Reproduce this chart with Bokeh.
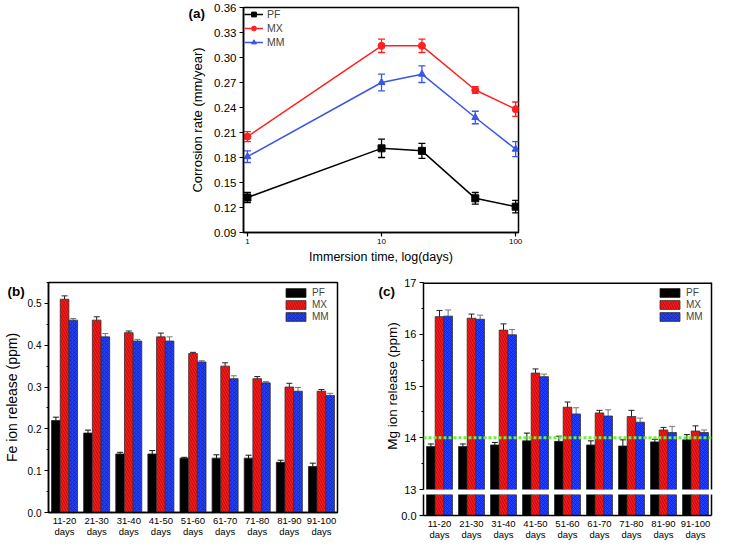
import numpy as np
from bokeh.plotting import figure
from bokeh.models import (ColumnDataSource, Whisker, TeeHead, FixedTicker, SingleIntervalTicker,
                          NumeralTickFormatter, Legend, LegendItem, LinearAxis,
                          Span, FactorRange, Title)
from bokeh.layouts import column, row
from bokeh.transform import dodge
from bokeh.embed import file_html
from bokeh.resources import INLINE

FONT = "Liberation Sans"

# ---------------- data: panel (a) ----------------
days = [1, 10, 20, 50, 100]
pf_rate = [0.132, 0.191, 0.188, 0.131, 0.121]
pf_rate_err = [0.006, 0.011, 0.009, 0.007, 0.0075]
mx_rate = [0.205, 0.314, 0.314, 0.261, 0.238]
mx_rate_err = [0.006, 0.008, 0.008, 0.004, 0.0086]
mm_rate = [0.181, 0.270, 0.280, 0.228, 0.190]
mm_rate_err = [0.007, 0.010, 0.010, 0.0075, 0.009]
a_xticks = [1, 10, 100]

# ---------------- data: panels (b), (c) ----------------
periods = ["11-20", "21-30", "31-40", "41-50", "51-60", "61-70", "71-80", "81-90", "91-100"]
period_labels = [p + "\ndays" for p in periods]

fe_pf = [0.22, 0.19, 0.14, 0.14, 0.13, 0.13, 0.13, 0.12, 0.11]
fe_pf_err = [0.008, 0.007, 0.004, 0.008, 0.002, 0.008, 0.007, 0.005, 0.008]
fe_mx = [0.51, 0.46, 0.43, 0.42, 0.38, 0.35, 0.32, 0.30, 0.29]
fe_mx_err = [0.008, 0.008, 0.004, 0.009, 0.003, 0.008, 0.005, 0.009, 0.004]
fe_mm = [0.46, 0.42, 0.41, 0.41, 0.36, 0.32, 0.31, 0.29, 0.28]
fe_mm_err = [0.004, 0.008, 0.004, 0.010, 0.003, 0.007, 0.003, 0.009, 0.005]

mg_pf = [13.83, 13.83, 13.86, 13.94, 13.93, 13.86, 13.84, 13.92, 13.96]
mg_pf_err = [0.05, 0.05, 0.05, 0.15, 0.10, 0.08, 0.12, 0.05, 0.10]
mg_mx = [16.34, 16.31, 16.08, 15.25, 14.59, 14.48, 14.41, 14.15, 14.13]
mg_mx_err = [0.12, 0.08, 0.12, 0.08, 0.10, 0.05, 0.12, 0.05, 0.10]
mg_mm = [16.35, 16.29, 15.99, 15.18, 14.46, 14.42, 14.30, 14.10, 14.10]
mg_mm_err = [0.12, 0.08, 0.10, 0.05, 0.12, 0.12, 0.08, 0.12, 0.05]
mg_ref_level = 14.0
mg_axis_top = 17

RED = "#ff1a1a"
BLUE = "#1f3cff"


def base_fig(**kw):
    p = figure(output_backend="svg", toolbar_location=None,
               background_fill_color="white", border_fill_color="white", **kw)
    p.grid.visible = False
    return p


def style_axis(ax, tick_size):
    ax.axis_line_color = "black"
    ax.axis_line_width = 1.5
    ax.major_tick_line_color = "black"
    ax.major_tick_line_width = 1.2
    ax.minor_tick_line_color = "black"
    ax.major_tick_in = 0
    ax.major_tick_out = 4
    ax.minor_tick_in = 0
    ax.minor_tick_out = 2
    ax.major_label_text_font = FONT
    ax.major_label_text_font_size = tick_size
    ax.major_label_text_color = "black"
    ax.axis_label_text_font = FONT
    ax.axis_label_text_font_style = "normal"
    ax.axis_label_text_color = "black"


def plain_axis():
    return LinearAxis(ticker=FixedTicker(ticks=[], minor_ticks=[]), axis_line_color="black",
                      axis_line_width=1.5, major_tick_line_color=None, minor_tick_line_color=None,
                      major_tick_out=0, minor_tick_out=0, major_label_standoff=0)


def x_labels(ax):
    ax.major_tick_line_color = None
    ax.major_tick_out = 0
    ax.major_label_text_font_size = "9.5px"
    ax.major_label_text_line_height = 1.0
    ax.major_label_standoff = 2


def panel_tag(text, offset, standoff):
    return Title(text=text, align="left", offset=offset, standoff=standoff, text_font=FONT,
                 text_font_style="bold", text_font_size="13.5px", text_color="black")


# ================= panel (a) =================
src_a = ColumnDataSource(dict(
    days=days,
    pf=pf_rate, pf_lo=np.subtract(pf_rate, pf_rate_err), pf_hi=np.add(pf_rate, pf_rate_err),
    mx=mx_rate, mx_lo=np.subtract(mx_rate, mx_rate_err), mx_hi=np.add(mx_rate, mx_rate_err),
    mm=mm_rate, mm_lo=np.subtract(mm_rate, mm_rate_err), mm_hi=np.add(mm_rate, mm_rate_err),
))

pa = base_fig(width=716, height=278, x_axis_type="log", x_range=(0.935, 105), y_range=(0.09, 0.36),
              min_border_left=243, min_border_right=198, min_border_top=7, min_border_bottom=46)
pa.outline_line_color = "black"
pa.outline_line_width = 1.5

items = []
for key, lab, col, marker in [("pf", "PF", "black", "square"),
                              ("mx", "MX", "#ff2020", "circle"),
                              ("mm", "MM", "#3a55e8", "triangle")]:
    w = Whisker(base="days", upper=key + "_hi", lower=key + "_lo", source=src_a,
                line_color=col, line_width=1.3,
                upper_head=TeeHead(size=7, line_color=col, line_width=1.3),
                lower_head=TeeHead(size=7, line_color=col, line_width=1.3))
    pa.add_layout(w)
    l = pa.line("days", key, source=src_a, line_color=col, line_width=1.5)
    s = pa.scatter("days", key, source=src_a, marker=marker, size=7, fill_color=col, line_color=col)
    items.append(LegendItem(label=lab, renderers=[l, s]))

leg_a = Legend(items=items, location="top_left", border_line_color=None, background_fill_alpha=0,
               label_text_font=FONT, label_text_font_size="10.5px", glyph_width=19, glyph_height=12,
               label_height=12, spacing=2, padding=2, margin=1, label_standoff=4)
pa.add_layout(leg_a)

for ax in pa.xaxis + pa.yaxis:
    style_axis(ax, "11.5px")
pa.xaxis.ticker = FixedTicker(ticks=a_xticks, minor_ticks=[])
pa.xaxis.formatter = NumeralTickFormatter(format="0")
pa.xaxis.major_label_text_font_size = "8px"
pa.xaxis.major_label_standoff = 2
pa.xaxis.axis_label = "Immersion time, log(days)"
pa.xaxis.axis_label_text_font_size = "12.5px"
pa.xaxis.axis_label_standoff = 3
pa.yaxis.ticker = SingleIntervalTicker(interval=0.03, num_minor_ticks=0)
pa.yaxis.formatter = NumeralTickFormatter(format="0.00")
pa.yaxis.major_label_standoff = 3
pa.yaxis.axis_label = "Corrosion rate (mm/year)"
pa.yaxis.axis_label_text_font_size = "13px"
pa.yaxis.axis_label_standoff = 6
pa.add_layout(panel_tag("(a)", -55, -27), "above")


# ================= bar helpers =================
def bar_source(pf, pf_e, mx, mx_e, mm, mm_e):
    return ColumnDataSource(dict(
        period=period_labels,
        pf=pf, pf_lo=np.subtract(pf, pf_e), pf_hi=np.add(pf, pf_e),
        mx=mx, mx_lo=np.subtract(mx, mx_e), mx_hi=np.add(mx, mx_e),
        mm=mm, mm_lo=np.subtract(mm, mm_e), mm_hi=np.add(mm, mm_e),
    ))


BAR_STYLES = [
    ("pf", "PF", -0.27, dict(fill_color="black", line_color="#222222")),
    ("mx", "MX", 0.0, dict(fill_color=RED, line_color="#333333", hatch_pattern="left_diagonal_line",
                           hatch_color="#7a0000", hatch_alpha=0.55, hatch_scale=5, hatch_weight=1)),
    ("mm", "MM", 0.27, dict(fill_color=BLUE, line_color="#333333", hatch_pattern="diagonal_cross",
                            hatch_color="#0a1a80", hatch_alpha=0.6, hatch_scale=4, hatch_weight=0.8)),
]
WHISK_COL = {"pf": "#111111", "mx": "#222222", "mm": "#777777"}


def draw_bars(p, src, with_err=True):
    rends = []
    for key, lab, off, st in BAR_STYLES:
        r = p.vbar(x=dodge("period", off, range=p.x_range), top=key, bottom=0, width=0.27,
                   source=src, line_width=0.8, **st)
        rends.append((lab, r))
        if with_err:
            c = WHISK_COL[key]
            p.add_layout(Whisker(base=dodge("period", off, range=p.x_range), upper=key + "_hi",
                                 lower=key + "_lo", source=src, line_color=c, line_width=1,
                                 upper_head=TeeHead(size=6, line_color=c, line_width=1),
                                 lower_head=TeeHead(size=6, line_color=c, line_width=1)))
    return rends


def bar_legend(rends):
    return Legend(items=[LegendItem(label=l, renderers=[r]) for l, r in rends],
                  location="top_right", border_line_color=None, background_fill_alpha=0,
                  label_text_font=FONT, label_text_font_size="10px", glyph_width=25,
                  glyph_height=11, label_height=11, spacing=1, padding=2, margin=5,
                  label_standoff=4)


# ================= panel (b) =================
src_b = bar_source(fe_pf, fe_pf_err, fe_mx, fe_mx_err, fe_mm, fe_mm_err)
pb = base_fig(width=357, height=264, x_range=FactorRange(*period_labels), y_range=(0, 0.55),
              min_border_left=45, min_border_right=20, min_border_top=4, min_border_bottom=30)
pb.outline_line_color = "black"
pb.outline_line_width = 1.5
rb = draw_bars(pb, src_b)
pb.add_layout(bar_legend(rb))
for ax in pb.xaxis + pb.yaxis:
    style_axis(ax, "10px")
x_labels(pb.xaxis[0])
pb.yaxis.ticker = SingleIntervalTicker(interval=0.1, num_minor_ticks=2)
pb.yaxis.formatter = NumeralTickFormatter(format="0.0")
pb.yaxis.major_label_standoff = 3
pb.yaxis.axis_label = "Fe ion release (ppm)"
pb.yaxis.axis_label_text_font_size = "14px"
pb.yaxis.axis_label_standoff = 5
pb.add_layout(panel_tag("(b)", -41, -32), "above")

# ================= panel (c) =================
src_c = bar_source(mg_pf, mg_pf_err, mg_mx, mg_mx_err, mg_mm, mg_mm_err)
xr_c = FactorRange(*period_labels)

pc1 = base_fig(width=359, height=216, x_range=xr_c, y_range=(13, mg_axis_top), x_axis_location=None,
               min_border_left=66, min_border_right=5, min_border_top=4, min_border_bottom=5)
pc1.outline_line_color = None
rc = draw_bars(pc1, src_c)
pc1.add_layout(Span(location=mg_ref_level, dimension="width", line_color="#6cf040",
                    line_width=3, line_dash="3 2"))
pc1.add_layout(Span(location=mg_axis_top, dimension="width", line_color="black", line_width=3))
pc1.add_layout(bar_legend(rc))
for ax in pc1.yaxis:
    style_axis(ax, "11px")
pc1.yaxis.ticker = SingleIntervalTicker(interval=1, num_minor_ticks=2)
pc1.yaxis.formatter = NumeralTickFormatter(format="0")
pc1.yaxis.major_label_standoff = 3
pc1.add_layout(plain_axis(), "right")
pc1.add_layout(panel_tag("(c)", -45, -33), "above")
pc1.add_layout(Title(text="Mg ion release (ppm)", align="center", offset=-22, standoff=4,
                     text_font=FONT, text_font_style="normal", text_font_size="13.5px",
                     text_color="black"), "left")

pc2 = base_fig(width=359, height=48, x_range=xr_c, y_range=(0, 1),
               min_border_left=66, min_border_right=5, min_border_top=0, min_border_bottom=27)
pc2.outline_line_color = None
draw_bars(pc2, src_c, with_err=False)
for ax in pc2.xaxis + pc2.yaxis:
    style_axis(ax, "11px")
x_labels(pc2.xaxis[0])
pc2.yaxis.ticker = FixedTicker(ticks=[0], minor_ticks=[])
pc2.yaxis.formatter = NumeralTickFormatter(format="0.0")
pc2.yaxis.major_label_standoff = 3
pc2.add_layout(plain_axis(), "right")

layout = column(pa, row(pb, column(pc1, pc2)))
open("out.html", "w").write(file_html(layout, INLINE))
